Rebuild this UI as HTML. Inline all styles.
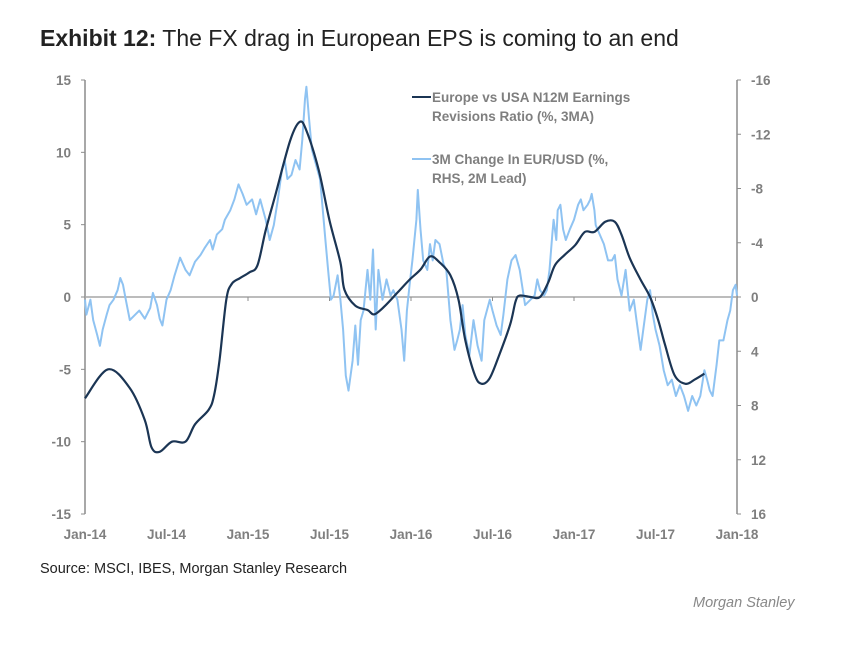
<!DOCTYPE html>
<html><head><meta charset="utf-8"><style>
body{margin:0;background:#fff;width:859px;height:640px;overflow:hidden;font-family:"Liberation Sans",sans-serif}
svg text{font-family:"Liberation Sans",sans-serif}
</style></head><body>
<svg width="859" height="640">
<text x="40" y="46" font-size="23" fill="#222"><tspan font-weight="bold">Exhibit 12:</tspan> The FX drag in European EPS is coming to an end</text>
<g id="axes"></g>
<g id="series"></g>
<g>
<line x1="412" y1="97" x2="431" y2="97" stroke="#1b3554" stroke-width="2"/>
<text x="432" y="102" font-size="13.5" font-weight="bold" fill="#7f7f7f">Europe vs USA N12M Earnings</text>
<text x="432" y="121" font-size="13.5" font-weight="bold" fill="#7f7f7f">Revisions Ratio (%, 3MA)</text>
<line x1="412" y1="159" x2="431" y2="159" stroke="#8fc3f2" stroke-width="2"/>
<text x="432" y="164" font-size="13.5" font-weight="bold" fill="#7f7f7f">3M Change In EUR/USD (%,</text>
<text x="432" y="183" font-size="13.5" font-weight="bold" fill="#7f7f7f">RHS, 2M Lead)</text>
</g>
<text x="40" y="573" font-size="14.5" fill="#222">Source: MSCI, IBES, Morgan Stanley Research</text>
<text x="693" y="607" font-size="14.5" font-style="italic" fill="#888">Morgan Stanley</text>
</svg>
<script>
const xTickLabels=["Jan-14","Jul-14","Jan-15","Jul-15","Jan-16","Jul-16","Jan-17","Jul-17","Jan-18"];
const leftTicks=[15,10,5,0,-5,-10,-15];
const rightTicks=[-16,-12,-8,-4,0,4,8,12,16];
const revMonths=[0,1.7,3.3,4.4,4.9,5.5,6.4,7.4,8.1,9.1,9.5,9.9,10.4,10.8,11.4,12.1,12.7,13.3,14.0,15.1,15.8,16.3,17.2,18.0,18.8,19.1,19.9,20.8,21.3,22.1,23.0,23.9,24.7,25.4,26.1,26.9,27.5,28.0,28.7,29.2,29.8,30.5,31.3,31.7,32.0,32.8,33.5,34.1,34.6,35.3,36.1,36.8,37.5,38.3,39.0,39.5,40.1,40.9,41.6,42.2,42.7,43.4,44.2,44.9,45.6];
const revValues=[-7.0,-5.0,-6.3,-8.5,-10.4,-10.7,-10.0,-10.0,-8.8,-7.8,-6.8,-4.4,-0.2,0.9,1.3,1.7,2.2,4.6,7.0,10.8,12.1,11.5,8.8,5.3,2.4,0.5,-0.6,-0.9,-1.2,-0.6,0.3,1.2,1.9,2.8,2.4,1.5,-0.2,-3.0,-5.4,-6.0,-5.6,-4.0,-1.9,-0.3,0.1,0,0,1.0,2.2,2.9,3.6,4.5,4.5,5.2,5.2,4.3,2.7,1.2,0,-1.6,-3.3,-5.4,-6.0,-5.7,-5.3];
const fxMonths=[0,0.1,0.4,0.6,0.9,1.1,1.3,1.6,1.8,2.1,2.4,2.6,2.8,3.0,3.3,3.7,4.0,4.4,4.8,5.0,5.3,5.5,5.7,6.0,6.3,6.6,7.0,7.4,7.7,8.1,8.5,8.8,9.2,9.4,9.7,10.1,10.3,10.7,11.0,11.3,11.6,11.9,12.3,12.6,12.9,13.3,13.6,13.9,14.2,14.5,14.7,14.9,15.2,15.5,15.8,16.0,16.2,16.3,16.5,16.7,17.0,17.3,17.4,17.7,17.9,18.1,18.3,18.6,18.8,19.0,19.2,19.4,19.7,19.9,20.1,20.3,20.5,20.8,21.0,21.2,21.4,21.6,21.9,22.2,22.5,22.7,23.0,23.3,23.5,23.7,23.9,24.1,24.4,24.5,24.7,24.9,25.2,25.4,25.6,25.8,26.1,26.4,26.6,26.9,27.2,27.4,27.6,27.8,28.0,28.3,28.6,28.9,29.2,29.4,29.8,30.0,30.3,30.6,30.8,31.1,31.4,31.7,32.0,32.4,32.8,33.1,33.3,33.5,33.8,34.0,34.2,34.4,34.5,34.7,34.8,35.0,35.2,35.4,35.7,36.0,36.3,36.5,36.7,37.0,37.2,37.3,37.5,37.6,37.9,38.2,38.5,38.8,39.0,39.2,39.5,39.8,40.1,40.4,40.6,40.9,41.1,41.4,41.6,41.8,42.0,42.3,42.6,42.9,43.2,43.5,43.8,44.1,44.4,44.7,45.0,45.3,45.6,45.8,46.0,46.2,46.5,46.7,47.0,47.3,47.5,47.7,47.9,48.0];
const fxValues=[0.2,1.3,0.2,1.7,2.8,3.6,2.4,1.3,0.6,0.2,-0.5,-1.4,-0.9,0.2,1.7,1.3,1.0,1.6,0.8,-0.3,0.6,1.6,2.1,0.2,-0.5,-1.6,-2.9,-2.0,-1.6,-2.6,-3.1,-3.6,-4.2,-3.5,-4.6,-5.0,-5.7,-6.4,-7.2,-8.3,-7.6,-6.8,-7.2,-6.1,-7.2,-5.7,-4.2,-5.3,-7.2,-9.4,-10.1,-8.7,-9.0,-10.1,-9.4,-11.6,-14.6,-15.5,-13.1,-10.9,-9.8,-8.7,-7.6,-4.2,-2.0,0.2,-0.1,-1.6,0.2,2.4,5.8,6.9,4.7,2.1,5.0,1.7,1.0,-2.0,0.2,-3.5,2.4,-2.0,0.2,-1.3,-0.1,-0.5,0.2,2.4,4.7,1.0,-0.9,-2.7,-5.7,-7.9,-5.0,-2.7,-2.0,-3.9,-2.7,-4.2,-3.9,-2.4,-2.0,1.7,3.9,3.2,2.4,0.6,2.8,4.3,1.7,3.6,4.7,1.7,0.2,1.0,2.1,2.8,1.3,-1.3,-2.7,-3.1,-2.0,0.6,0.2,-0.1,-1.3,-0.5,-0.1,-0.5,-2.0,-4.6,-5.7,-4.2,-6.4,-6.8,-5.0,-4.2,-5.0,-5.7,-6.8,-7.2,-6.4,-6.8,-7.2,-7.6,-6.4,-5.3,-4.6,-3.9,-2.7,-2.7,-3.1,-1.3,-0.1,-2.0,1.0,0.2,1.7,3.9,2.4,0.2,-0.5,1.3,2.4,3.6,5.4,6.5,6.1,7.3,6.5,7.3,8.4,7.3,8.0,7.3,5.4,6.1,6.9,7.3,5.0,3.2,3.2,1.7,1.0,-0.5,-0.9,-0.1];
const NS="http://www.w3.org/2000/svg";
const X0=85,X1=737,Y0=80,Y1=514;
const xs=m=>X0+(m/48)*(X1-X0);
const yL=v=>Y1-(v+15)/30*(Y1-Y0);
const yR=v=>Y0+(v+16)/32*(Y1-Y0);
function mk(tag,attrs,parent){const e=document.createElementNS(NS,tag);for(const k in attrs)e.setAttribute(k,attrs[k]);parent.appendChild(e);return e;}
const ax=document.getElementById('axes');
const gray="#8c8c8c";
let e=mk('line',{x1:X0,y1:Y0,x2:X0,y2:Y1,stroke:gray,'stroke-width':1.5},ax);


e=mk('line',{x1:X1,y1:Y0,x2:X1,y2:Y1,stroke:gray,'stroke-width':1.5},ax);


e=mk('line',{x1:X0,y1:yL(0),x2:X1,y2:yL(0),stroke:"#a6a6a6",'stroke-width':1.5},ax);


leftTicks.forEach(v=>{const y=yL(v);
 mk('line',{x1:X0-4,y1:y,x2:X0,y2:y,stroke:gray},ax);
 const t=mk('text',{x:X0-14,y:y+5,'text-anchor':'end','font-size':13.5,'font-weight':'bold',fill:'#7f7f7f'},ax);t.textContent=v;
 
 });
rightTicks.forEach(v=>{const y=yR(v);
 mk('line',{x1:X1,y1:y,x2:X1+4,y2:y,stroke:gray},ax);
 const t=mk('text',{x:X1+14,y:y+5,'text-anchor':'start','font-size':13.5,'font-weight':'bold',fill:'#7f7f7f'},ax);t.textContent=v;
 
 });
xTickLabels.forEach((l,i)=>{const x=xs(i*6);
 if(i>0&&i<8)mk('line',{x1:x,y1:yL(0),x2:x,y2:yL(0)+4,stroke:gray},ax);
 const t=mk('text',{x:x,y:539,'text-anchor':'middle','font-size':13.5,'font-weight':'bold',fill:'#7f7f7f'},ax);t.textContent=l;
 
 });
const sg=document.getElementById('series');
const n2=Math.min(fxMonths.length,fxValues.length);
let d='';for(let i=0;i<n2;i++)d+=(i?'L':'M')+xs(fxMonths[i]).toFixed(1)+','+yR(fxValues[i]).toFixed(1);
e=mk('path',{d:d,fill:'none',stroke:'#8fc3f2','stroke-width':2,'stroke-linejoin':'round'},sg);


const pts=revMonths.map((m,i)=>[xs(m),yL(revValues[i])]);
d='M'+pts[0][0]+','+pts[0][1];
for(let i=0;i<pts.length-1;i++){const p0=pts[i-1]||pts[i],p1=pts[i],p2=pts[i+1],p3=pts[i+2]||p2;
 d+=`C${p1[0]+(p2[0]-p0[0])/6},${p1[1]+(p2[1]-p0[1])/6} ${p2[0]-(p3[0]-p1[0])/6},${p2[1]-(p3[1]-p1[1])/6} ${p2[0]},${p2[1]}`;}
e=mk('path',{d:d,fill:'none',stroke:'#1b3554','stroke-width':2.2},sg);


</script>
</body></html>
